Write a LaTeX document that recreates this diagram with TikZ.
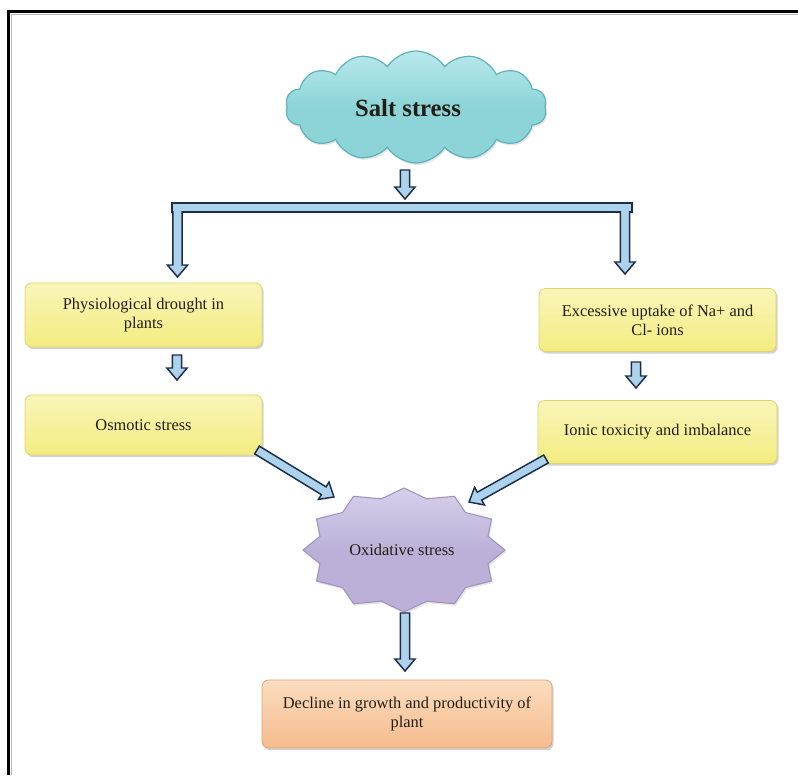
\documentclass[tikz,border=0pt]{standalone}
\usepackage{fontspec}
\setmainfont{Liberation Serif}
\usetikzlibrary{shapes.symbols,shadows,calc}
\definecolor{arrowfill}{RGB}{172,210,236}
\definecolor{arrowline}{RGB}{28,45,75}
\definecolor{boxyellow}{RGB}{243,236,128}
\definecolor{boxyellowlt}{RGB}{249,245,185}
\definecolor{boxedge}{RGB}{222,212,110}
\definecolor{peach}{RGB}{245,188,142}
\definecolor{peachlt}{RGB}{251,220,190}
\definecolor{peachedge}{RGB}{220,165,120}
\definecolor{cloudfill}{RGB}{140,212,216}
\definecolor{cloudlt}{RGB}{185,233,236}
\definecolor{cloudedge}{RGB}{95,178,186}
\definecolor{starfill}{RGB}{188,176,216}
\definecolor{starlt}{RGB}{215,207,234}
\definecolor{staredge}{RGB}{160,146,196}
\definecolor{txt}{RGB}{35,30,20}
\newcommand\blockarrow[2]{%
  \path let \p1=(#1), \p2=(#2),
    \n1={atan2(\y2-\y1,\x2-\x1)},
    \n2={veclen(\x2-\x1,\y2-\y1)} in
    \pgfextra{\xdef\baang{\n1}\xdef\balen{\n2}\xdef\bax{\x1}\xdef\bay{\y1}};
  \begin{scope}[shift={(\bax,\bay)}, rotate=\baang]
    \draw[blockarr] (0pt,-3.4pt) -- ({\balen-9pt},-3.4pt) -- ({\balen-9pt},-7.6pt)
      -- ({\balen},0pt) -- ({\balen-9pt},7.6pt) -- ({\balen-9pt},3.4pt)
      -- (0pt,3.4pt) -- cycle;
  \end{scope}}
\begin{document}
\begin{tikzpicture}[x=0.75pt,y=-0.75pt,
  blockarr/.style={fill=arrowfill, draw=arrowline, line width=1.1pt, line join=miter},
  ybox/.style={rectangle, rounded corners=5pt, draw=boxedge, line width=0.6pt,
    top color=boxyellowlt, middle color=boxyellow, bottom color=boxyellow,
    drop shadow={opacity=0.35, shadow xshift=1.2pt, shadow yshift=-1.6pt},
    font=\fontsize{12.3}{14.5}\selectfont, text=txt, align=center},
  ]
\useasboundingbox (0,0) rectangle (798,775);
\fill[white] (0,0) rectangle (798,775);
% frame
\draw[line width=2.4pt] (8.5,775) -- (8.5,11.5) -- (798,11.5);
\draw[gray!55, line width=0.8pt] (11.6,775) -- (11.6,14.6) -- (798,14.6);

% cloud
\node[cloud, cloud puffs=14, cloud puff arc=115, aspect=2.3,
  minimum width=196pt, minimum height=84pt,
  top color=cloudlt, bottom color=cloudfill, middle color=cloudfill,
  draw=cloudedge, line width=0.9pt,
  drop shadow={opacity=0.2, shadow xshift=1pt, shadow yshift=-1.5pt}] (cloud) at (416,107) {};
\node[font=\fontsize{18.5}{21}\selectfont\bfseries, text=txt] (salt) at (408,108) {Salt stress};

% bar
\node[rectangle, fill=arrowfill, draw=arrowline, line width=1.1pt,
  minimum width=345pt, minimum height=6.5pt, inner sep=0pt] (bar) at (402,207.5) {};

% boxes
\node[ybox, minimum width=177.75pt, minimum height=48pt] (b1) at (143.5,315)
  {Physiological drought in\\plants};
\node[ybox, minimum width=177.75pt, minimum height=45pt] (b2) at (143.5,425)
  {Osmotic stress};
\node[ybox, minimum width=177.75pt, minimum height=47.25pt] (b3) at (657.5,320)
  {Excessive uptake of Na+ and\\Cl- ions};
\node[ybox, minimum width=179.25pt, minimum height=47.25pt] (b4) at (657.5,432)
  {Ionic toxicity and imbalance};
\node[ybox, top color=peachlt, middle color=peach, bottom color=peach, draw=peachedge,
  minimum width=217.5pt, minimum height=51pt] (b5) at (407,714)
  {Decline in growth and productivity of\\plant};

% star
\draw[top color=starlt, bottom color=starfill, middle color=starfill, draw=staredge, line width=0.8pt,
  drop shadow={opacity=0.2, shadow xshift=1pt, shadow yshift=-1.5pt}]
  plot[samples at={0,...,23}, variable=\k]
  ({404 + (mod(\k,2)==0 ? 101 : 87)*cos(\k*15)}, {550 + (mod(\k,2)==0 ? 62 : 53)*sin(\k*15)}) -- cycle;
\node[font=\fontsize{12.3}{14.5}\selectfont, text=txt] (ox) at (402,550) {Oxidative stress};

% arrow end points
\coordinate (c0) at (405,170);  \coordinate (c1) at (405,199);
\coordinate (l0) at (177.5,209); \coordinate (l1) at (177.5,277);
\coordinate (r0) at (625,209);  \coordinate (r1) at (625,274);
\coordinate (p0) at (177,355);  \coordinate (p1) at (177,380);
\coordinate (q0) at (636,362);  \coordinate (q1) at (636,388);
\coordinate (d0) at (257,450);  \coordinate (d1) at (334,497);
\coordinate (e0) at (546,459);  \coordinate (e1) at (469,502);
\coordinate (o0) at (405,613);  \coordinate (o1) at (405,671);

\blockarrow{c0}{c1}
\blockarrow{l0}{l1}
\blockarrow{r0}{r1}
\node[rectangle, fill=arrowfill, inner sep=0pt, minimum width=343pt, minimum height=5pt] at (bar) {};
\blockarrow{p0}{p1}
\blockarrow{q0}{q1}
\blockarrow{d0}{d1}
\blockarrow{e0}{e1}
\blockarrow{o0}{o1}
\end{tikzpicture}
\end{document}
